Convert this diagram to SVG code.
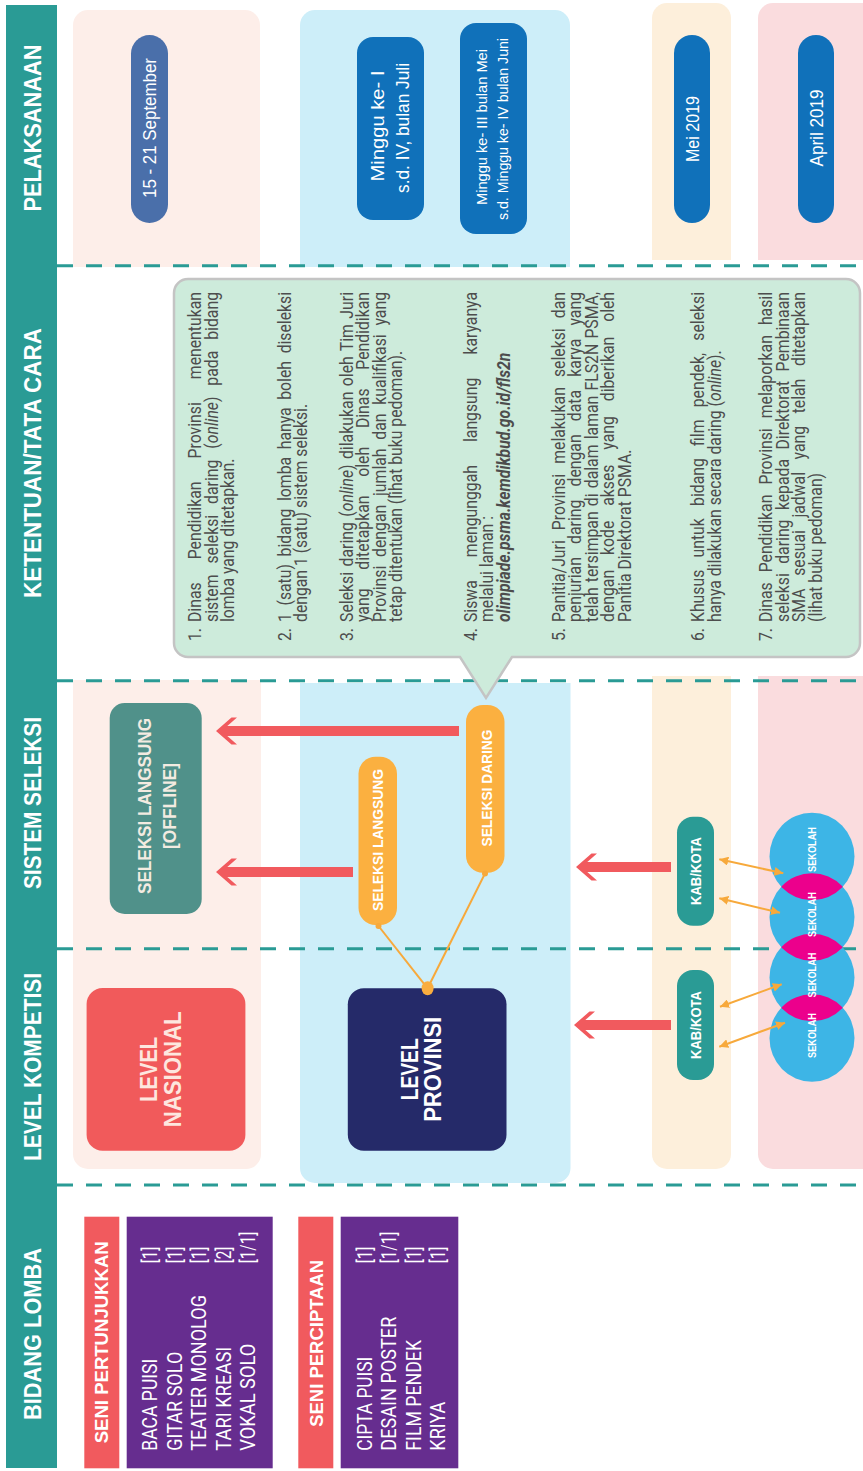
<svg xmlns="http://www.w3.org/2000/svg" width="863" height="1471" viewBox="0 0 863 1471">
<defs>
<style>
.hdr{font-family:"Liberation Sans",Arial,sans-serif;font-weight:700;font-size:23px;fill:#fff;text-anchor:middle}
.dash{stroke:#2a9b95;stroke-width:3;stroke-dasharray:16 13;fill:none}
.pt{font-family:"Liberation Sans",Arial,sans-serif;fill:#fff;text-anchor:middle}
.body{font-family:Roboto,"Liberation Sans",sans-serif;font-size:19px;fill:#4d4d4d}
.lst{font-family:Roboto,"Liberation Sans",sans-serif;font-size:19.5px;fill:#fff}
.bl{font-family:"Liberation Sans",Arial,sans-serif;font-weight:700;text-anchor:middle}
.red{fill:#f15a5e}
.ol{stroke:#f7a93b;stroke-width:2;fill:none}
.dbl{stroke:#f7a93b;stroke-width:2;fill:none;marker-start:url(#oa);marker-end:url(#oa)}
.sk{fill:#3db5e6}
.lens{fill:#ec008c}
.skt{font-family:"Liberation Sans",Arial,sans-serif;font-weight:700;font-size:10.5px;fill:#fff;text-anchor:middle}
</style>
<marker id="oa" viewBox="0 0 10 10" refX="10" refY="5" markerWidth="4.5" markerHeight="4.5" orient="auto-start-reverse">
<path d="M0 0 L10 5 L0 10 Z" fill="#f7a93b"/>
</marker>
<clipPath id="k1"><ellipse cx="614.5" cy="812" rx="43.75" ry="42.5"/></clipPath>
<clipPath id="k2"><ellipse cx="554" cy="812" rx="43.75" ry="42.5"/></clipPath>
<clipPath id="k3"><ellipse cx="493.5" cy="812" rx="43.75" ry="42.5"/></clipPath>
</defs>
<rect width="863" height="1471" fill="#fff"/>
<g id="canvas" transform="translate(0 1471) rotate(-90)">
  <g id="bands">
    <path fill="#fdeee9" d="M1204 73 H1446 A15 15 0 0 1 1461 88 V245 A15 15 0 0 1 1446 260 H1204 Z"/>
    <path fill="#cdeef9" d="M1204 300 H1446 A15 15 0 0 1 1461 315 V555 A15 15 0 0 1 1446 570 H1204 Z"/>
    <path fill="#fdefdb" d="M1211 652 H1453 A15 15 0 0 1 1468 667 V716 A15 15 0 0 1 1453 731 H1211 Z"/>
    <path fill="#fadcde" d="M1211 758 H1453 A15 15 0 0 1 1468 773 V880 H1211 Z"/>
    <path fill="#fdeee9" d="M791 73 V261 H317 A15 15 0 0 1 302 246 V88 A15 15 0 0 1 317 73 Z"/>
    <path fill="#cdeef9" d="M788 300 V570.5 H303 A15 15 0 0 1 288 555.5 V315 A15 15 0 0 1 303 300 Z"/>
    <path fill="#fdefdb" d="M795 652 V731 H317 A15 15 0 0 1 302 716 V667 A15 15 0 0 1 317 652 Z"/>
    <path fill="#fadcde" d="M795 758 V880 H302 V773 A15 15 0 0 1 317 758 Z"/>
  </g>
  <g id="header">
    <rect x="3" y="6" width="1463" height="51" fill="#2a9b95"/>
    <text class="hdr" x="1343" y="40.5" textLength="167" lengthAdjust="spacingAndGlyphs">PELAKSANAAN</text>
    <text class="hdr" x="1008" y="40.5" textLength="270" lengthAdjust="spacingAndGlyphs">KETENTUAN/TATA CARA</text>
    <text class="hdr" x="668" y="40.5" textLength="172" lengthAdjust="spacingAndGlyphs">SISTEM SELEKSI</text>
    <text class="hdr" x="404" y="40.5" textLength="188" lengthAdjust="spacingAndGlyphs">LEVEL KOMPETISI</text>
    <text class="hdr" x="137" y="40.5" textLength="172" lengthAdjust="spacingAndGlyphs">BIDANG LOMBA</text>
  </g>
  <g id="separators">
    <line class="dash" x1="1205.3" y1="57" x2="1205.3" y2="863"/>
    <line class="dash" x1="790.3" y1="57" x2="790.3" y2="863"/>
    <line class="dash" x1="522.3" y1="57" x2="522.3" y2="863"/>
    <line class="dash" x1="286" y1="57" x2="286" y2="863"/>
  </g>
  <g id="pelaksanaan">
    <g id="p-nasional">
      <rect x="1248" y="131" width="188" height="37" rx="18.5" fill="#4a6faa"/>
      <text class="pt" x="1343" y="156" font-size="18" textLength="140" lengthAdjust="spacingAndGlyphs">15 - 21 September</text>
    </g>
    <g id="p-prov-langsung">
      <rect x="1251" y="357" width="183" height="67" rx="16" fill="#1071ba"/>
      <text class="pt" x="1345" y="384" font-size="18.5" textLength="111" lengthAdjust="spacingAndGlyphs">Minggu ke- I</text>
      <text class="pt" x="1343" y="408.5" font-size="18.5" textLength="130" lengthAdjust="spacingAndGlyphs">s.d. IV, bulan Juli</text>
    </g>
    <g id="p-prov-daring">
      <rect x="1237" y="460" width="211" height="67" rx="16" fill="#1071ba"/>
      <text class="pt" x="1344" y="486.5" font-size="14.5" textLength="156" lengthAdjust="spacingAndGlyphs">Minggu ke- III bulan Mei</text>
      <text class="pt" x="1342" y="507.5" font-size="14.5" textLength="182" lengthAdjust="spacingAndGlyphs">s.d. Minggu ke- IV bulan Juni</text>
    </g>
    <g id="p-kab">
      <rect x="1248" y="674" width="188" height="36" rx="18" fill="#1071ba"/>
      <text class="pt" x="1342" y="698.5" font-size="18" textLength="66" lengthAdjust="spacingAndGlyphs">Mei 2019</text>
    </g>
    <g id="p-sekolah">
      <rect x="1248" y="798" width="188" height="36" rx="18" fill="#1071ba"/>
      <text class="pt" x="1343" y="822.5" font-size="18" textLength="77" lengthAdjust="spacingAndGlyphs">April 2019</text>
    </g>
  </g>
  <g id="ketentuan">
    <path d="M828 174 H1178 A14 14 0 0 1 1192 188 V846 A14 14 0 0 1 1178 860 H828 A14 14 0 0 1 814 846 V512 L773 486 L814 460 V188 A14 14 0 0 1 828 174 Z" fill="#cdebdb" stroke="#c4c4c4" stroke-width="2.5"/>
    <g class="body" transform="matrix(0.83 0 0 1 144.33 0)">
      <text x="826" y="201.5">1.</text>
      <text x="849" y="201.5" word-spacing="23.1" textLength="397.6" lengthAdjust="spacing">Dinas Pendidikan Provinsi menentukan</text>
      <text x="849" y="218" word-spacing="8.3" textLength="397.6" lengthAdjust="spacing">sistem seleksi daring (<tspan font-style="italic">online</tspan>) pada bidang</text>
      <text x="849" y="234.5">lomba yang ditetapkan.</text>

      <text x="826" y="291">2.</text>
      <text x="849" y="291" word-spacing="4.5" textLength="397.6" lengthAdjust="spacing">1 (satu) bidang lomba hanya boleh diseleksi</text>
      <text x="849" y="307.5">dengan 1 (satu) sistem seleksi.</text>

      <text x="826" y="353">3.</text>
      <text x="849" y="353" word-spacing="1.7" textLength="397.6" lengthAdjust="spacing">Seleksi daring (<tspan font-style="italic">online</tspan>) dilakukan oleh Tim Juri</text>
      <text x="849" y="369.5" word-spacing="17.9" textLength="397.6" lengthAdjust="spacing">yang ditetapkan oleh Dinas Pendidikan</text>
      <text x="849" y="386" word-spacing="5.8" textLength="397.6" lengthAdjust="spacing">Provinsi dengan jumlah dan kualifikasi yang</text>
      <text x="849" y="402.5">tetap ditentukan (lihat buku pedoman).</text>

      <text x="826" y="477">4.</text>
      <text x="849" y="477" word-spacing="23.1" textLength="397.6" lengthAdjust="spacing">Siswa mengunggah langsung karyanya</text>
      <text x="849" y="493.5">melalui laman :</text>
      <text x="849" y="510" font-style="italic" font-weight="700">olimpiade.psma.kemdikbud.go.id/fls2n</text>

      <text x="826" y="565">5.</text>
      <text x="849" y="565" word-spacing="7.5" textLength="397.6" lengthAdjust="spacing">Panitia/Juri Provinsi melakukan seleksi dan</text>
      <text x="849" y="581.5" word-spacing="11.2" textLength="397.6" lengthAdjust="spacing">penjurian daring dengan data karya yang</text>
      <text x="849" y="598" word-spacing="1.6" textLength="397.6" lengthAdjust="spacing">telah tersimpan di dalam laman FLS2N PSMA,</text>
      <text x="849" y="614.5" word-spacing="13.3" textLength="397.6" lengthAdjust="spacing">dengan kode akses yang diberikan oleh</text>
      <text x="849" y="631">Panitia Direktorat PSMA.</text>

      <text x="826" y="704.5">6.</text>
      <text x="849" y="704.5" word-spacing="10" textLength="397.6" lengthAdjust="spacing">Khusus untuk bidang film pendek, seleksi</text>
      <text x="849" y="721">hanya dilakukan secara daring (<tspan font-style="italic">online</tspan>).</text>

      <text x="826" y="772.5">7.</text>
      <text x="849" y="772.5" word-spacing="7.4" textLength="397.6" lengthAdjust="spacing">Dinas Pendidikan Provinsi melaporkan hasil</text>
      <text x="849" y="789" word-spacing="6.6" textLength="397.6" lengthAdjust="spacing">seleksi daring kepada Direktorat Pembinaan</text>
      <text x="849" y="805.5" word-spacing="10.5" textLength="397.6" lengthAdjust="spacing">SMA sesuai jadwal yang telah ditetapkan</text>
      <text x="849" y="822">(lihat buku pedoman)</text>
    </g>
  </g>
  <g id="offline">
    <rect x="557" y="109.7" width="211" height="92" rx="15" fill="#50918a"/>
    <text class="bl" x="665" y="151" font-size="18.5" fill="#f3ebe1" textLength="176" lengthAdjust="spacingAndGlyphs">SELEKSI LANGSUNG</text>
    <text class="bl" x="665" y="175.5" font-size="18.5" fill="#f3ebe1" textLength="86" lengthAdjust="spacingAndGlyphs">[OFFLINE]</text>
  </g>
  <g id="seleksi-langsung">
    <rect x="546" y="358.5" width="168.3" height="38.5" rx="17" fill="#fbb040"/>
    <text class="bl" x="631" y="383" font-size="15" fill="#fff" textLength="142" lengthAdjust="spacingAndGlyphs">SELEKSI LANGSUNG</text>
  </g>
  <g id="seleksi-daring">
    <rect x="598.3" y="466" width="167.7" height="38.5" rx="17" fill="#fbb040"/>
    <text class="bl" x="683" y="491.5" font-size="15" fill="#fff" textLength="117" lengthAdjust="spacingAndGlyphs">SELEKSI DARING</text>
  </g>
  <g id="kab-sistem">
    <rect x="545.3" y="677" width="109" height="37" rx="16" fill="#2a9b95"/>
    <text class="bl" x="600" y="700.5" font-size="14.5" fill="#fff" textLength="68" lengthAdjust="spacingAndGlyphs">KAB/KOTA</text>
  </g>
  <g id="kab-level">
    <rect x="391" y="677" width="110" height="37" rx="16" fill="#2a9b95"/>
    <text class="bl" x="446" y="700.5" font-size="14.5" fill="#fff" textLength="68" lengthAdjust="spacingAndGlyphs">KAB/KOTA</text>
  </g>
  <g id="level-nasional">
    <rect x="320.3" y="86.6" width="162.7" height="158.8" rx="16" fill="#f15a5b"/>
    <text class="bl" x="401.7" y="157" font-size="24" fill="#fde7df" textLength="65" lengthAdjust="spacingAndGlyphs">LEVEL</text>
    <text class="bl" x="401.7" y="180.5" font-size="24" fill="#fde7df" textLength="116" lengthAdjust="spacingAndGlyphs">NASIONAL</text>
  </g>
  <g id="level-provinsi">
    <rect x="320.3" y="347.8" width="162.4" height="158.7" rx="16" fill="#252a69"/>
    <text class="bl" x="401.7" y="417.5" font-size="24" fill="#fff" textLength="62" lengthAdjust="spacingAndGlyphs">LEVEL</text>
    <text class="bl" x="401.7" y="441" font-size="24" fill="#fff" textLength="105" lengthAdjust="spacingAndGlyphs">PROVINSI</text>
  </g>
  <g id="sekolah">
    <ellipse class="sk" cx="614.5" cy="812" rx="43.75" ry="42.5"/>
    <ellipse class="sk" cx="554" cy="812" rx="43.75" ry="42.5"/>
    <ellipse class="sk" cx="493.5" cy="812" rx="43.75" ry="42.5"/>
    <ellipse class="sk" cx="433" cy="812" rx="43.75" ry="42.5"/>
    <ellipse class="lens" cx="554" cy="812" rx="43.75" ry="42.5" clip-path="url(#k1)"/>
    <ellipse class="lens" cx="493.5" cy="812" rx="43.75" ry="42.5" clip-path="url(#k2)"/>
    <ellipse class="lens" cx="433" cy="812" rx="43.75" ry="42.5" clip-path="url(#k3)"/>
    <text class="skt" x="621.5" y="816" textLength="45" lengthAdjust="spacingAndGlyphs">SEKOLAH</text>
    <text class="skt" x="556.5" y="816" textLength="45" lengthAdjust="spacingAndGlyphs">SEKOLAH</text>
    <text class="skt" x="496" y="816" textLength="45" lengthAdjust="spacingAndGlyphs">SEKOLAH</text>
    <text class="skt" x="435.5" y="816" textLength="45" lengthAdjust="spacingAndGlyphs">SEKOLAH</text>
  </g>
  <g id="connectors">
    <path class="red" d="M740 216 L753.5 231.5 L753.5 237 L745 227.3 L745 459 L735 459 L735 227.3 L726.5 237 L726.5 231.5 Z"/>
    <path class="red" d="M599 216 L612.5 231.5 L612.5 237 L604 227.3 L604 353 L594 353 L594 227.3 L585.5 237 L585.5 231.5 Z"/>
    <path class="red" d="M604 576 L617.5 591.5 L617.5 597 L609 587.3 L609 671 L599 671 L599 587.3 L590.5 597 L590.5 591.5 Z"/>
    <path class="red" d="M446 574 L459.5 589.5 L459.5 595 L451 585.3 L451 671 L441 671 L441 585.3 L432.5 595 L432.5 589.5 Z"/>
    <line class="ol" x1="597.5" y1="485" x2="482.7" y2="427.6"/>
    <line class="ol" x1="545" y1="378.5" x2="482.7" y2="427.6"/>
    <circle cx="597.5" cy="485" r="3" fill="#f7a93b"/>
    <circle cx="545" cy="378.5" r="3" fill="#f7a93b"/>
    <ellipse cx="482.7" cy="427.6" rx="7" ry="6" fill="#f9ad3f"/>
    <line class="dbl" x1="611.7" y1="719.3" x2="597.7" y2="783.3"/>
    <line class="dbl" x1="572.7" y1="719.3" x2="558.3" y2="780"/>
    <line class="dbl" x1="464.3" y1="720" x2="486.7" y2="781.7"/>
    <line class="dbl" x1="424.3" y1="719.3" x2="448.3" y2="785"/>
  </g>
  <g id="seni-pertunjukkan">
    <rect x="2.7" y="84.3" width="251.6" height="35" fill="#f15a5e"/>
    <text class="bl" x="128.7" y="108.3" font-size="18.5" fill="#fff" textLength="202" lengthAdjust="spacingAndGlyphs">SENI PERTUNJUKKAN</text>
    <rect x="2.7" y="126.7" width="251.6" height="146" fill="#662d8f"/>
    <g class="lst">
      <text x="20.3" y="157" textLength="92" lengthAdjust="spacingAndGlyphs">BACA PUISI</text><text x="207.7" y="157" textLength="16.7" lengthAdjust="spacingAndGlyphs">[1]</text>
      <text x="20.3" y="181.5" textLength="99" lengthAdjust="spacingAndGlyphs">GITAR SOLO</text><text x="207.7" y="181.5" textLength="16.7" lengthAdjust="spacingAndGlyphs">[1]</text>
      <text x="20.3" y="206" textLength="155.7" lengthAdjust="spacingAndGlyphs">TEATER MONOLOG</text><text x="207.7" y="206" textLength="16.7" lengthAdjust="spacingAndGlyphs">[1]</text>
      <text x="20.3" y="230.5" textLength="104" lengthAdjust="spacingAndGlyphs">TARI KREASI</text><text x="207.7" y="230.5" textLength="16.7" lengthAdjust="spacingAndGlyphs">[2]</text>
      <text x="20.3" y="255" textLength="107" lengthAdjust="spacingAndGlyphs">VOKAL SOLO</text><text x="207.7" y="255" textLength="31.7" lengthAdjust="spacingAndGlyphs">[1/1]</text>
    </g>
  </g>
  <g id="seni-perciptaan">
    <rect x="2.7" y="298.3" width="251.6" height="35" fill="#f15a5e"/>
    <text class="bl" x="127.7" y="323" font-size="18.5" fill="#fff" textLength="167" lengthAdjust="spacingAndGlyphs">SENI PERCIPTAAN</text>
    <rect x="2.7" y="340.7" width="251.6" height="117.6" fill="#662d8f"/>
    <g class="lst">
      <text x="20.3" y="371.5" textLength="94" lengthAdjust="spacingAndGlyphs">CIPTA PUISI</text><text x="207.7" y="371.5" textLength="16.7" lengthAdjust="spacingAndGlyphs">[1]</text>
      <text x="20.3" y="396" textLength="134" lengthAdjust="spacingAndGlyphs">DESAIN POSTER</text><text x="207.7" y="396" textLength="31.7" lengthAdjust="spacingAndGlyphs">[1/1]</text>
      <text x="20.3" y="420.5" textLength="110.7" lengthAdjust="spacingAndGlyphs">FILM PENDEK</text><text x="207.7" y="420.5" textLength="16.7" lengthAdjust="spacingAndGlyphs">[1]</text>
      <text x="20.3" y="445" textLength="49" lengthAdjust="spacingAndGlyphs">KRIYA</text><text x="207.7" y="445" textLength="16.7" lengthAdjust="spacingAndGlyphs">[1]</text>
    </g>
  </g>
</g>
</svg>
